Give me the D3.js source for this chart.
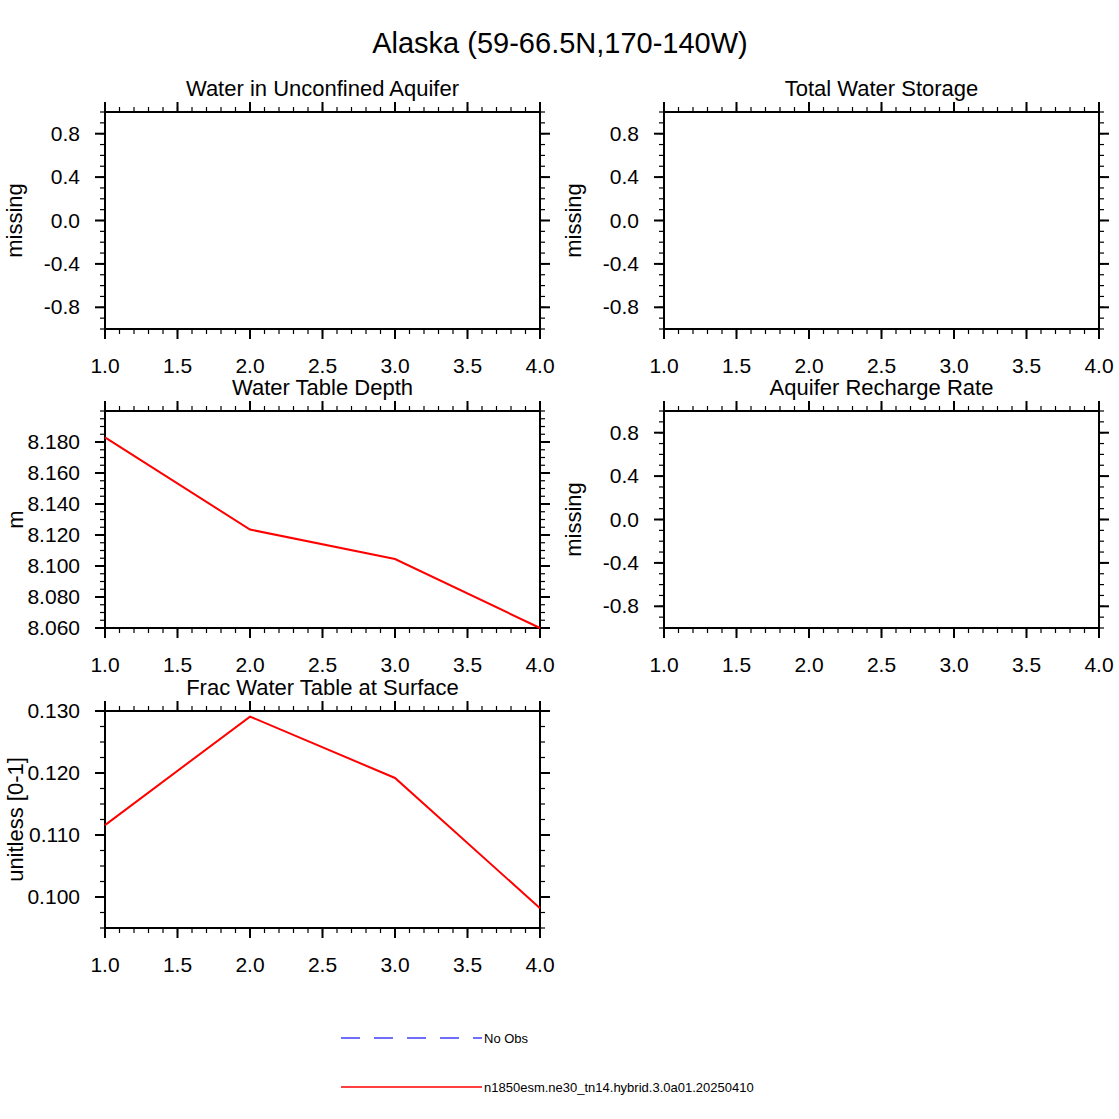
<!DOCTYPE html>
<html><head><meta charset="utf-8">
<script src="https://cdn.jsdelivr.net/npm/d3@7"></script>
<style>body{margin:0;background:#fff}text{font-family:Helvetica,"Liberation Sans",Arial,sans-serif}</style>
</head><body>
<svg id="chart" width="1119" height="1119"></svg>
<script>
const xs = [1, 2, 3, 4];
const xTicks = [1.0, 1.5, 2.0, 2.5, 3.0, 3.5, 4.0];
const missingTicks = [-0.8, -0.4, 0.0, 0.4, 0.8];
const depthVals = [8.183, 8.1235, 8.1045, 8.060];
const depthTicks = [8.06, 8.08, 8.10, 8.12, 8.14, 8.16, 8.18];
const fracVals = [0.1116, 0.1291, 0.1192, 0.0982];
const fracTicks = [0.10, 0.11, 0.12, 0.13];

const panels = [
  {title: "Water in Unconfined Aquifer", ylab: "missing", x0: 105, y0: 112, dom: [-1, 1], ticks: missingTicks, minor: 0.1, fmt: ".1f", data: null},
  {title: "Total Water Storage", ylab: "missing", x0: 664, y0: 112, dom: [-1, 1], ticks: missingTicks, minor: 0.1, fmt: ".1f", data: null},
  {title: "Water Table Depth", ylab: "m", x0: 105, y0: 411, dom: [8.06, 8.2], ticks: depthTicks, minor: 0.005, fmt: ".3f", data: depthVals},
  {title: "Aquifer Recharge Rate", ylab: "missing", x0: 664, y0: 411, dom: [-1, 1], ticks: missingTicks, minor: 0.1, fmt: ".1f", data: null},
  {title: "Frac Water Table at Surface", ylab: "unitless [0-1]", x0: 105, y0: 711, dom: [0.095, 0.13], ticks: fracTicks, minor: 0.0025, fmt: ".3f", data: fracVals}
];
const W = 435, H = 217;
const svg = d3.select("#chart");

svg.append("text").attr("x", 560).attr("y", 53).attr("text-anchor", "middle")
  .style("font-size", "29px").text("Alaska (59-66.5N,170-140W)");

function range(a, b, s) { const r = []; for (let v = a; v <= b + s / 1000; v += s) r.push(+v.toFixed(6)); return r; }

panels.forEach(p => {
  const g = svg.append("g").attr("transform", `translate(${p.x0},${p.y0})`);
  const x = d3.scaleLinear().domain([1, 4]).range([0, W]);
  const y = d3.scaleLinear().domain(p.dom).range([H, 0]);
  const xMinor = range(1, 4, 0.1);
  const yMinor = range(p.dom[0], p.dom[1], p.minor);

  // outward ticks on all four sides
  [["bottom", H, 1], ["top", 0, -1]].forEach(([s, yy, dir]) => {
    g.selectAll(null).data(xMinor).enter().append("line")
      .attr("x1", d => x(d)).attr("x2", d => x(d)).attr("y1", yy).attr("y2", yy + dir * 5)
      .attr("stroke", "#000").attr("stroke-width", 1.2);
    g.selectAll(null).data(xTicks).enter().append("line")
      .attr("x1", d => x(d)).attr("x2", d => x(d)).attr("y1", yy).attr("y2", yy + dir * 10)
      .attr("stroke", "#000").attr("stroke-width", 2);
  });
  [[0, -1], [W, 1]].forEach(([xx, dir]) => {
    g.selectAll(null).data(yMinor).enter().append("line")
      .attr("x1", xx).attr("x2", xx + dir * 5).attr("y1", d => y(d)).attr("y2", d => y(d))
      .attr("stroke", "#000").attr("stroke-width", 1.2);
    g.selectAll(null).data(p.ticks).enter().append("line")
      .attr("x1", xx).attr("x2", xx + dir * 10).attr("y1", d => y(d)).attr("y2", d => y(d))
      .attr("stroke", "#000").attr("stroke-width", 2);
  });

  g.selectAll(null).data(xTicks).enter().append("text")
    .attr("x", d => x(d)).attr("y", H + 44).attr("text-anchor", "middle")
    .style("font-size", "21px").text(d => d.toFixed(1));
  g.selectAll(null).data(p.ticks).enter().append("text")
    .attr("x", -25).attr("y", d => y(d) + 7).attr("text-anchor", "end")
    .style("font-size", "21px").text(d => d3.format(p.fmt)(d).replace("\u2212", "-"));

  g.append("rect").attr("width", W).attr("height", H).attr("fill", "none")
    .attr("stroke", "#000").attr("stroke-width", 2);

  if (p.data) {
    g.append("path").datum(p.data)
      .attr("d", d3.line().x((d, i) => x(xs[i])).y(d => y(d)))
      .attr("fill", "none").attr("stroke", "red").attr("stroke-width", 2);
  }

  g.append("text").attr("x", W / 2).attr("y", -16).attr("text-anchor", "middle")
    .style("font-size", "22px").text(p.title);
  const lx = p.ylab === "missing" ? -83 : -82;
  g.append("text").attr("transform", `translate(${lx},${H / 2}) rotate(-90)`)
    .attr("text-anchor", "middle").style("font-size", "22px").text(p.ylab);
});

// legend
const leg = svg.append("g");
leg.append("line").attr("x1", 341).attr("x2", 482).attr("y1", 1038).attr("y2", 1038)
  .attr("stroke", "#4040ff").attr("stroke-width", 1.5).attr("stroke-dasharray", "19,14");
leg.append("text").attr("x", 484).attr("y", 1043).style("font-size", "13px").text("No Obs");
leg.append("line").attr("x1", 341).attr("x2", 482).attr("y1", 1087).attr("y2", 1087)
  .attr("stroke", "red").attr("stroke-width", 1.5);
leg.append("text").attr("x", 484).attr("y", 1092).style("font-size", "13px")
  .text("n1850esm.ne30_tn14.hybrid.3.0a01.20250410");
</script>
</body></html>
